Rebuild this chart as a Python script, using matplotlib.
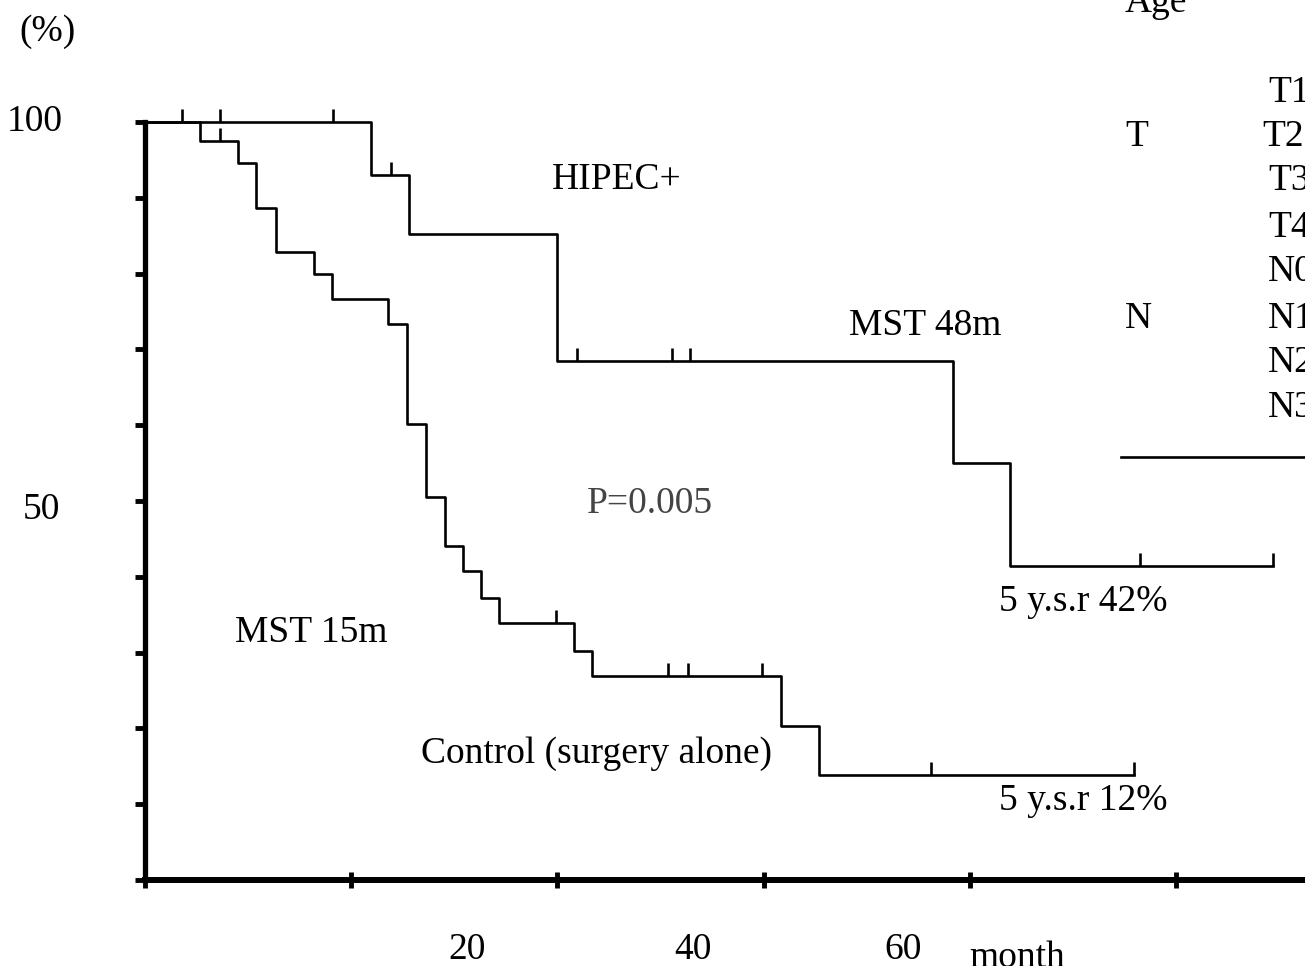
import numpy as np
import matplotlib
matplotlib.use("Agg")
import matplotlib.pyplot as plt

plt.rcParams['font.family'] = ['Liberation Serif', 'DejaVu Serif']

# Kaplan-Meier data (months, survival %)
hipec_t = [0, 13.15, 15.36, 23.98, 47.02, 50.34, 65.64]
hipec_s = [100, 93.0, 85.2, 68.5, 55.0, 41.4, 41.4]
hipec_cens = [2.15, 4.36, 10.94, 14.32, 25.14, 30.67, 31.72, 57.91, 65.64]

ctrl_t = [0, 3.20, 5.41, 6.46, 7.62, 9.84, 10.88, 14.14, 15.25, 16.35, 17.46,
          18.51, 19.55, 20.60, 24.97, 26.01, 37.01, 39.22, 57.56]
ctrl_s = [100, 97.5, 94.6, 88.7, 82.8, 79.9, 76.6, 73.4, 60.2, 50.5, 44.1,
          40.8, 37.2, 33.9, 30.2, 26.9, 20.3, 13.9, 13.9]
ctrl_cens = [4.36, 23.92, 30.44, 31.60, 35.91, 45.74, 57.56]

x_ticks = [0, 12, 24, 36, 48, 60]
y_ticks = list(range(0, 101, 10))
x_labels = ["20", "40", "60"]
x_label_pos = [18.74, 31.89, 44.11]
y_labels = ["100", "50"]
y_label_pos = [100, 48.8]

T_labels = ["T1", "T2", "T3", "T4"]
N_labels = ["N0", "N1", "N2", "N3"]

fig = plt.figure(figsize=(13.05, 9.66), dpi=100)
ax = fig.add_axes([145 / 1305, 86 / 966, 1160 / 1305, 758 / 966])

lw = 1.9
ax.step(hipec_t, hipec_s, where='post', color='black', lw=lw, clip_on=False)
ax.step(ctrl_t, ctrl_s, where='post', color='black', lw=lw, clip_on=False)


def level_at(t_arr, s_arr, t):
    i = np.searchsorted(t_arr, t, side='right') - 1
    return np.array(s_arr)[i]


# censor marks: short upward ticks
for tt, ss, cens in [(hipec_t, hipec_s, hipec_cens), (ctrl_t, ctrl_s, ctrl_cens)]:
    lv = level_at(tt, ss, cens)
    ax.vlines(cens, lv, lv + 1.7, color='black', lw=lw, clip_on=False)

# axes styling
for s in ['top', 'right']:
    ax.spines[s].set_visible(False)
ax.spines['left'].set_linewidth(3.8)
ax.spines['bottom'].set_linewidth(4.3)
ax.set_xticks(x_ticks)
ax.set_yticks(y_ticks)
ax.set_xticklabels([])
ax.set_yticklabels([])
ax.tick_params(axis='y', direction='out', length=7, width=3.5)
ax.tick_params(axis='x', direction='inout', length=11, width=3.5)
ax.set_xlim(0, 67.51)
ax.set_ylim(0, 100)

fs = 27
for lab, yp, xp in zip(y_labels, y_label_pos, [-6.4, -6.0]):
    ax.text(xp, yp, lab, ha='center', va='center', fontsize=fs, clip_on=False)
ax.text(-5.7, 111.9, "(%)", ha='center', va='center', fontsize=fs, clip_on=False)
for lab, xp in zip(x_labels, x_label_pos):
    ax.text(xp, -9.2, lab, ha='center', va='center', fontsize=fs, clip_on=False)
ax.text(50.75, -10.3, "month", ha='center', va='center', fontsize=fs, clip_on=False)

ax.text(27.46, 92.35, "HIPEC+", ha='center', va='center', fontsize=fs)
ax.text(45.4, 73.1, "MST 48m", ha='center', va='center', fontsize=fs)
ax.text(29.4, 49.7, "P=0.005", ha='center', va='center', fontsize=fs, color='#444444')
ax.text(54.6, 36.7, "5 y.s.r 42%", ha='center', va='center', fontsize=fs)
ax.text(9.66, 32.6, "MST 15m", ha='center', va='center', fontsize=fs)
ax.text(26.25, 16.6, "Control (surgery alone)", ha='center', va='center', fontsize=fs)
ax.text(54.6, 10.4, "5 y.s.r 12%", ha='center', va='center', fontsize=fs)

# right side table fragment
ax.text(58.8, 114.5, "Age", ha='center', va='baseline', fontsize=fs, clip_on=False)
ax.text(57.7, 98.0, "T", ha='center', va='center', fontsize=fs, clip_on=False)
ax.text(57.8, 74.1, "N", ha='center', va='center', fontsize=fs, clip_on=False)
for lab, yp, xp in zip(T_labels, [103.8, 98.0, 92.2, 86.1], [65.35, 65.0, 65.35, 65.35]):
    ax.text(xp, yp, lab, ha='left', va='center', fontsize=fs, clip_on=False)
for lab, yp in zip(N_labels, [80.2, 74.1, 68.2, 62.3]):
    ax.text(65.35, yp, lab, ha='left', va='center', fontsize=fs, clip_on=False)
ax.plot([56.8, 67.5], [55.8, 55.8], color='black', lw=1.9, clip_on=False)

fig.savefig("out.png", dpi=100)
